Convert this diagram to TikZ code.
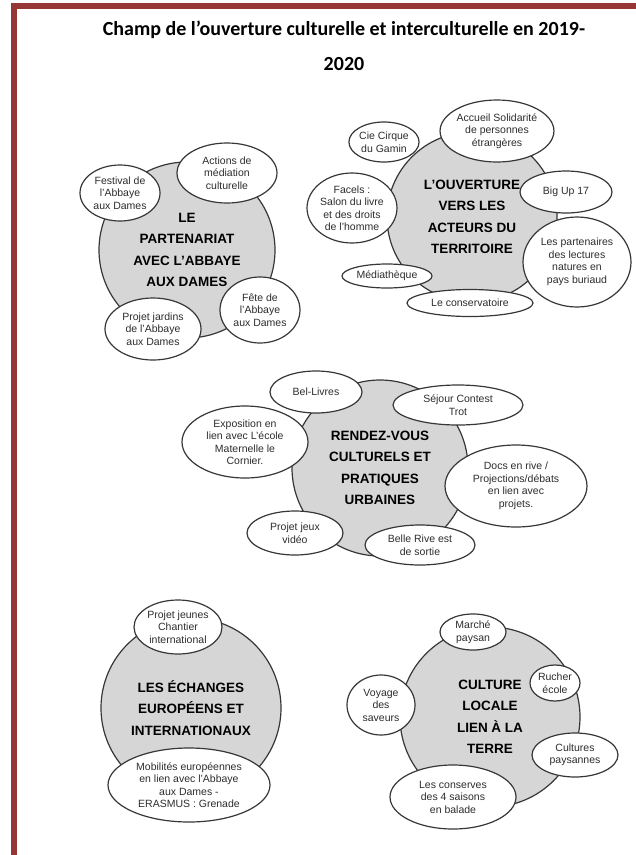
\documentclass[tikz,border=0pt]{standalone}
\usepackage{fontspec}
\setmainfont{Liberation Sans}
\newfontfamily\titrefont{Carlito}
\usepackage{tikz}
\usetikzlibrary{shapes,shapes.geometric}
\definecolor{cadrerouge}{RGB}{149,55,53}
\definecolor{gristrait}{RGB}{55,55,55}
\definecolor{grisfond}{RGB}{214,214,214}
\definecolor{gristexte}{RGB}{45,45,45}
\tikzset{
	rondnode/.style={circle, draw=gristrait, fill=grisfond, line width=1.2pt, inner sep=0pt, align=center, font=\fontsize{13.5}{21.5}\selectfont\bfseries},
	bullenode/.style={ellipse, draw=gristrait, fill=white, line width=1.2pt, inner sep=0pt, align=center, text=gristexte, font=\fontsize{10.5}{12.5}\selectfont},
	taille/.style 2 args={minimum width=#1pt, minimum height=#2pt}
}
\begin{document}
\begin{tikzpicture}[x=1pt,y=-1pt]
			\useasboundingbox (0,0) rectangle (636,855);
			\fill[cadrerouge] (11,3) rectangle (636,8.5);
			\fill[cadrerouge] (11,3) rectangle (16.5,855);
			\node[align=center, font=\titrefont\fontsize{20}{35}\selectfont\bfseries] (titre) at (344,46) {Champ de l’ouverture culturelle et interculturelle en 2019-\\2020};
			
			\node[rondnode, minimum size=176pt] (partenariat) at (187,250) {LE\\PARTENARIAT\\AVEC L'ABBAYE\\AUX DAMES};
			\node[bullenode, taille={80}{56}] (festival) at (120,193) {Festival de\\l'Abbaye\\aux Dames};
			\node[bullenode, taille={100}{60}] (mediation) at (227,173) {Actions de\\médiation\\culturelle};
			\node[bullenode, taille={80}{66}] (fete) at (260,310) {Fête de\\l'Abbaye\\aux Dames};
			\node[bullenode, taille={96}{62}] (jardins) at (153,329) {Projet jardins\\de l'Abbaye\\aux Dames};
			
			\node[rondnode, minimum size=170pt] (ouverture) at (472,217) {L'OUVERTURE\\VERS LES\\ACTEURS DU\\TERRITOIRE};
			\node[bullenode, taille={62}{40}] (cirque) at (384,142) {Cie Cirque\\du Gamin};
			\node[bullenode, taille={104}{62}] (accueil) at (497,131) {Accueil Solidarité\\de personnes\\étrangères};
			\node[bullenode, taille={92}{42}] (bigup) at (566,192) {Big Up 17};
			\node[bullenode, taille={86}{70}] (facels) at (352,208) {Facels :\\Salon du livre\\et des droits\\de l'homme};
			\node[bullenode, taille={108}{90}] (lectures) at (577,262) {Les partenaires\\des lectures\\natures en\\pays buriaud};
			\node[bullenode, taille={90}{24}] (mediatheque) at (387,276) {Médiathèque};
			\node[bullenode, taille={126}{27}] (conservatoire) at (470,303) {Le conservatoire};
			
			\node[rondnode, minimum size=176pt] (rendezvous) at (380,468) {RENDEZ-VOUS\\CULTURELS ET\\PRATIQUES\\URBAINES};
			\node[bullenode, taille={92}{42}] (bellivres) at (316,392) {Bel-Livres};
			\node[bullenode, taille={130}{40}] (sejour) at (458,405) {Séjour Contest\\Trot};
			\node[bullenode, taille={126}{72}] (exposition) at (245,442) {Exposition en\\lien avec L'école\\Maternelle le\\Cornier.};
			\node[bullenode, taille={142}{82}] (docs) at (516,486) {Docs en rive /\\Projections/débats\\en lien avec\\projets.};
			\node[bullenode, taille={96}{44}] (jeux) at (295,533) {Projet jeux\\vidéo};
			\node[bullenode, taille={110}{40}] (bellerive) at (420,545) {Belle Rive est\\de sortie};
			
			\node[rondnode, minimum size=180pt] (echanges) at (191,708) {LES ÉCHANGES\\EUROPÉENS ET\\INTERNATIONAUX};
			\node[bullenode, taille={88}{54}] (jeunes) at (178,627) {Projet jeunes\\Chantier\\international};
			\node[bullenode, taille={162}{74}] (mobilites) at (189,785) {Mobilités européennes\\en lien avec l'Abbaye\\aux Dames -\\ERASMUS  : Grenade};
			
			\node[rondnode, minimum size=180pt] (culture) at (490,717) {CULTURE\\LOCALE\\LIEN À LA\\TERRE};
			\node[bullenode, taille={66}{36}] (marche) at (473,632) {Marché\\paysan};
			\node[bullenode, taille={50}{36}] (rucher) at (555,683) {Rucher\\école};
			\node[bullenode, taille={68}{60}] (voyage) at (381,705) {Voyage\\des\\saveurs};
			\node[bullenode, taille={86}{44}] (cultures) at (575,755) {Cultures\\paysannes};
			\node[bullenode, taille={126}{64}] (conserves) at (453,797) {Les conserves\\des 4 saisons\\en balade};
		\end{tikzpicture}
\end{document}
